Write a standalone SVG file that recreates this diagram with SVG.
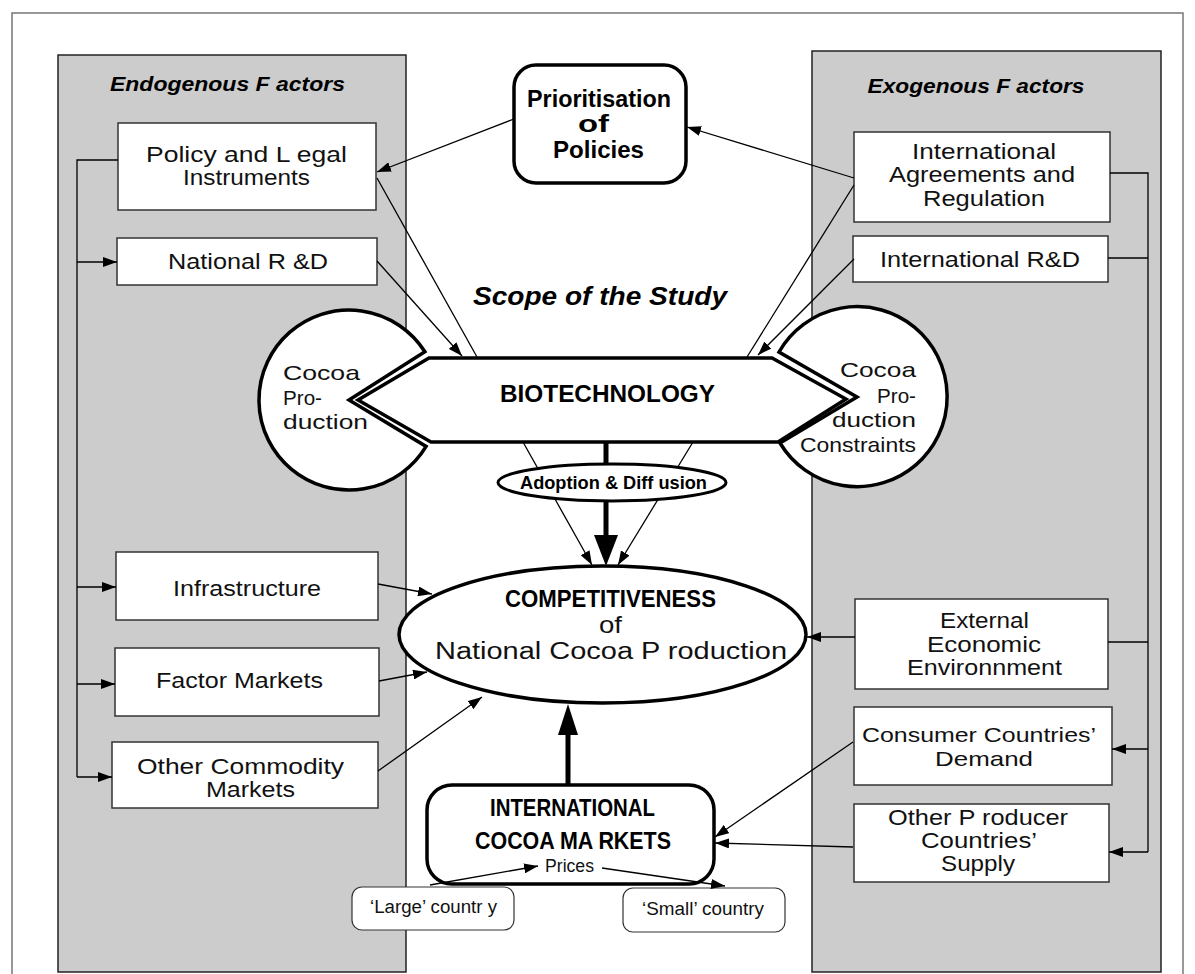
<svg xmlns="http://www.w3.org/2000/svg" width="1195" height="974" viewBox="0 0 1195 974">
<style>
.frame{fill:#fff;stroke:#777;stroke-width:1.5}
.panel{fill:#cccccc;stroke:#222;stroke-width:1.5}
.box{fill:#fff;stroke:#333;stroke-width:1.5}
.heavy{fill:#fff;stroke:#000;stroke-width:3.5}
.small{fill:#fff;stroke:#333;stroke-width:1.2}
text{font-family:"Liberation Sans",Arial,sans-serif;font-size:22px;fill:#111;text-anchor:middle}
.b{font-weight:bold;fill:#000}
.h{font-style:italic;font-weight:bold;font-size:21px;fill:#000}
.s{font-size:18px}
.l{text-anchor:start;font-size:21px}
.r{text-anchor:end;font-size:21px}
.c{fill:none;stroke:#000;stroke-width:1.3}
.a{marker-end:url(#ah)}
.k{fill:none;stroke:#000;stroke-width:5}
</style>
<defs>
<marker id="ah" viewBox="0 0 14 10" refX="14" refY="5" markerWidth="14" markerHeight="10" markerUnits="userSpaceOnUse" orient="auto"><path d="M0,0 L14,5 L0,10 z" fill="#000"/></marker>
</defs>
<rect class="frame" x="12" y="13" width="1171" height="990"/>
<g id="panel-endogenous">
<rect class="panel" x="58" y="55" width="348" height="917"/>
<text class="h" x="227.5" y="91" textLength="235" lengthAdjust="spacingAndGlyphs">Endogenous F actors</text>
</g>
<g id="panel-exogenous">
<rect class="panel" x="812" y="51" width="349" height="921"/>
<text class="h" x="976" y="93" textLength="217" lengthAdjust="spacingAndGlyphs">Exogenous F actors</text>
</g>
<text class="h" x="600" y="305" style="font-size:26px" textLength="254" lengthAdjust="spacingAndGlyphs">Scope of the Study</text>

<g id="policy">
<rect class="box" x="118" y="123" width="258" height="87"/>
<text x="246.5" y="162" textLength="201" lengthAdjust="spacingAndGlyphs">Policy and L egal</text>
<text x="246.5" y="185" textLength="127" lengthAdjust="spacingAndGlyphs">Instruments</text>
</g>
<g id="national-rd">
<rect class="box" x="117" y="238" width="260" height="47"/>
<text x="248" y="269" textLength="160" lengthAdjust="spacingAndGlyphs">National R &amp;D</text>
</g>
<g id="infrastructure">
<rect class="box" x="116" y="552" width="262" height="68"/>
<text x="247" y="596" textLength="148" lengthAdjust="spacingAndGlyphs">Infrastructure</text>
</g>
<g id="factor-markets">
<rect class="box" x="115" y="648" width="264" height="68"/>
<text x="239.5" y="688" textLength="167" lengthAdjust="spacingAndGlyphs">Factor Markets</text>
</g>
<g id="other-commodity">
<rect class="box" x="112" y="742" width="266" height="66"/>
<text x="240.5" y="774" textLength="207" lengthAdjust="spacingAndGlyphs">Other Commodity</text>
<text x="250.5" y="797" textLength="89" lengthAdjust="spacingAndGlyphs">Markets</text>
</g>
<g id="intl-agreements">
<rect class="box" x="854" y="132" width="256" height="90"/>
<text x="984" y="159" textLength="144" lengthAdjust="spacingAndGlyphs">International</text>
<text x="982" y="182" textLength="186" lengthAdjust="spacingAndGlyphs">Agreements and</text>
<text x="984" y="206" textLength="122" lengthAdjust="spacingAndGlyphs">Regulation</text>
</g>
<g id="intl-rd">
<rect class="box" x="853" y="236" width="255" height="46"/>
<text x="980" y="267" textLength="200" lengthAdjust="spacingAndGlyphs">International R&amp;D</text>
</g>
<g id="external">
<rect class="box" x="855" y="599" width="253" height="90"/>
<text x="984.5" y="628" textLength="89" lengthAdjust="spacingAndGlyphs">External</text>
<text x="984" y="652" textLength="114" lengthAdjust="spacingAndGlyphs">Economic</text>
<text x="984.5" y="675" textLength="155" lengthAdjust="spacingAndGlyphs">Environnment</text>
</g>
<g id="consumer">
<rect class="box" x="854" y="707" width="258" height="78"/>
<text x="979" y="742" style="font-size:21px" textLength="234" lengthAdjust="spacingAndGlyphs">Consumer Countries’</text>
<text x="984" y="766" style="font-size:21px" textLength="98" lengthAdjust="spacingAndGlyphs">Demand</text>
</g>
<g id="other-producer">
<rect class="box" x="854" y="804" width="255" height="78"/>
<text x="978" y="825" textLength="180" lengthAdjust="spacingAndGlyphs">Other P roducer</text>
<text x="979" y="848" textLength="116" lengthAdjust="spacingAndGlyphs">Countries’</text>
<text x="978" y="871" textLength="74" lengthAdjust="spacingAndGlyphs">Supply</text>
</g>
<g id="prioritisation">
<rect class="heavy" x="514" y="65" width="172" height="118" rx="22"/>
<text class="b" x="599" y="107" style="font-size:23px" textLength="144" lengthAdjust="spacingAndGlyphs">Prioritisation</text>
<text class="b" x="593.5" y="132" style="font-size:23px" textLength="31" lengthAdjust="spacingAndGlyphs">of</text>
<text class="b" x="598.5" y="158" style="font-size:23px" textLength="91" lengthAdjust="spacingAndGlyphs">Policies</text>
</g>
<g id="cocoa-production">
<circle cx="349" cy="400" r="90" fill="#fff"/>
<path class="heavy" d="M349,400 L424.9,351.7 A90,90 0 1 0 426.1,446.4 Z"/>
<text class="l" x="283" y="380" textLength="77" lengthAdjust="spacingAndGlyphs">Cocoa</text>
<text class="l" x="283" y="405" textLength="39" lengthAdjust="spacingAndGlyphs">Pro-</text>
<text class="l" x="283" y="429" textLength="85" lengthAdjust="spacingAndGlyphs">duction</text>
</g>
<g id="constraints">
<circle cx="857" cy="397" r="90" fill="#fff"/>
<path class="heavy" d="M857,397 L779,352 A90,90 0 1 1 780,443 Z"/>
<text class="r" x="916" y="377" textLength="76" lengthAdjust="spacingAndGlyphs">Cocoa</text>
<text class="r" x="916" y="403" textLength="39" lengthAdjust="spacingAndGlyphs">Pro-</text>
<text class="r" x="916" y="427" textLength="84" lengthAdjust="spacingAndGlyphs">duction</text>
<text class="r" x="916" y="452" textLength="116" lengthAdjust="spacingAndGlyphs">Constraints</text>
</g>
<g id="biotechnology">
<polygon class="heavy" points="429,358 772,358 846,399 778,442 431,442 358,400"/>
<text class="b" x="607.5" y="402" style="font-size:23px" textLength="215" lengthAdjust="spacingAndGlyphs">BIOTECHNOLOGY</text>
</g>
<g id="competitiveness">
<ellipse class="heavy" cx="602.5" cy="634.5" rx="203.5" ry="68.5"/>
<text class="b" x="610.5" y="607" style="font-size:23px" textLength="211" lengthAdjust="spacingAndGlyphs">COMPETITIVENESS</text>
<text x="610.5" y="633" style="font-size:24px" textLength="23" lengthAdjust="spacingAndGlyphs">of</text>
<text x="611" y="659" style="font-size:23px" textLength="352" lengthAdjust="spacingAndGlyphs">National Cocoa P roduction</text>
</g>
<g id="intl-markets">
<rect class="heavy" x="427" y="785" width="287" height="99" rx="25"/>
<text class="b" x="572.5" y="816" style="font-size:23px" textLength="165" lengthAdjust="spacingAndGlyphs">INTERNATIONAL</text>
<text class="b" x="573" y="849" style="font-size:23px" textLength="196" lengthAdjust="spacingAndGlyphs">COCOA MA RKETS</text>
<text class="s" x="569.5" y="872" textLength="49" lengthAdjust="spacingAndGlyphs">Prices</text>
</g>
<g id="large-country">
<rect class="small" x="352" y="887" width="162" height="43" rx="10"/>
<text class="s" x="433.5" y="913" textLength="127" lengthAdjust="spacingAndGlyphs">‘Large’ countr y</text>
</g>
<g id="small-country">
<rect class="small" x="623" y="888" width="162" height="44" rx="10"/>
<text class="s" x="703" y="915" textLength="122" lengthAdjust="spacingAndGlyphs">‘Small’ country</text>
</g>

<g id="connectors">
<path class="c" d="M118,160 H77 V777"/>
<path class="c a" d="M77,262 H117"/>
<path class="c a" d="M77,587 H116"/>
<path class="c a" d="M77,684 H115"/>
<path class="c a" d="M77,777 H112"/>
<path class="c" d="M1110,173 H1148 V852"/>
<path class="c" d="M1108,258 H1148"/>
<path class="c" d="M1108,642 H1148"/>
<path class="c a" d="M1148,749 H1112"/>
<path class="c a" d="M1148,852 H1109"/>
<path class="c a" d="M514,119 L377,172"/>
<path class="c a" d="M854,178 L687,127"/>
<path class="c" d="M377,178 L477,357"/>
<path class="c a" d="M377,261 L462,356"/>
<path class="c" d="M854,185 L747,357"/>
<path class="c a" d="M854,259 L758,355"/>
<path class="c a" d="M523,442 L592,565"/>
<path class="c a" d="M693,442 L618,565"/>
<path class="k" d="M606,443 V536"/>
<polygon points="594,535 618,535 606,566" fill="#000"/>
<path class="c a" d="M378,584 L432,594"/>
<path class="c a" d="M379,681 L427,672"/>
<path class="c a" d="M378,771 L482,697"/>
<path class="c a" d="M855,637 L807,637"/>
<path class="k" d="M568,785 V734"/>
<polygon points="558,735 578,735 568,704" fill="#000"/>
<path class="c a" d="M853,742 L715,837"/>
<path class="c a" d="M853,847 L715,843"/>
<path class="c a" d="M430,885 L538,866"/>
<path class="c a" d="M602,868 L725,886"/>
</g>
<g id="adoption">
<ellipse class="heavy" cx="612" cy="482.5" rx="114" ry="18.5" style="stroke-width:3"/>
<text class="b" x="613.5" y="489" style="font-size:18px" textLength="187" lengthAdjust="spacingAndGlyphs">Adoption &amp; Diff usion</text>
</g>
</svg>
